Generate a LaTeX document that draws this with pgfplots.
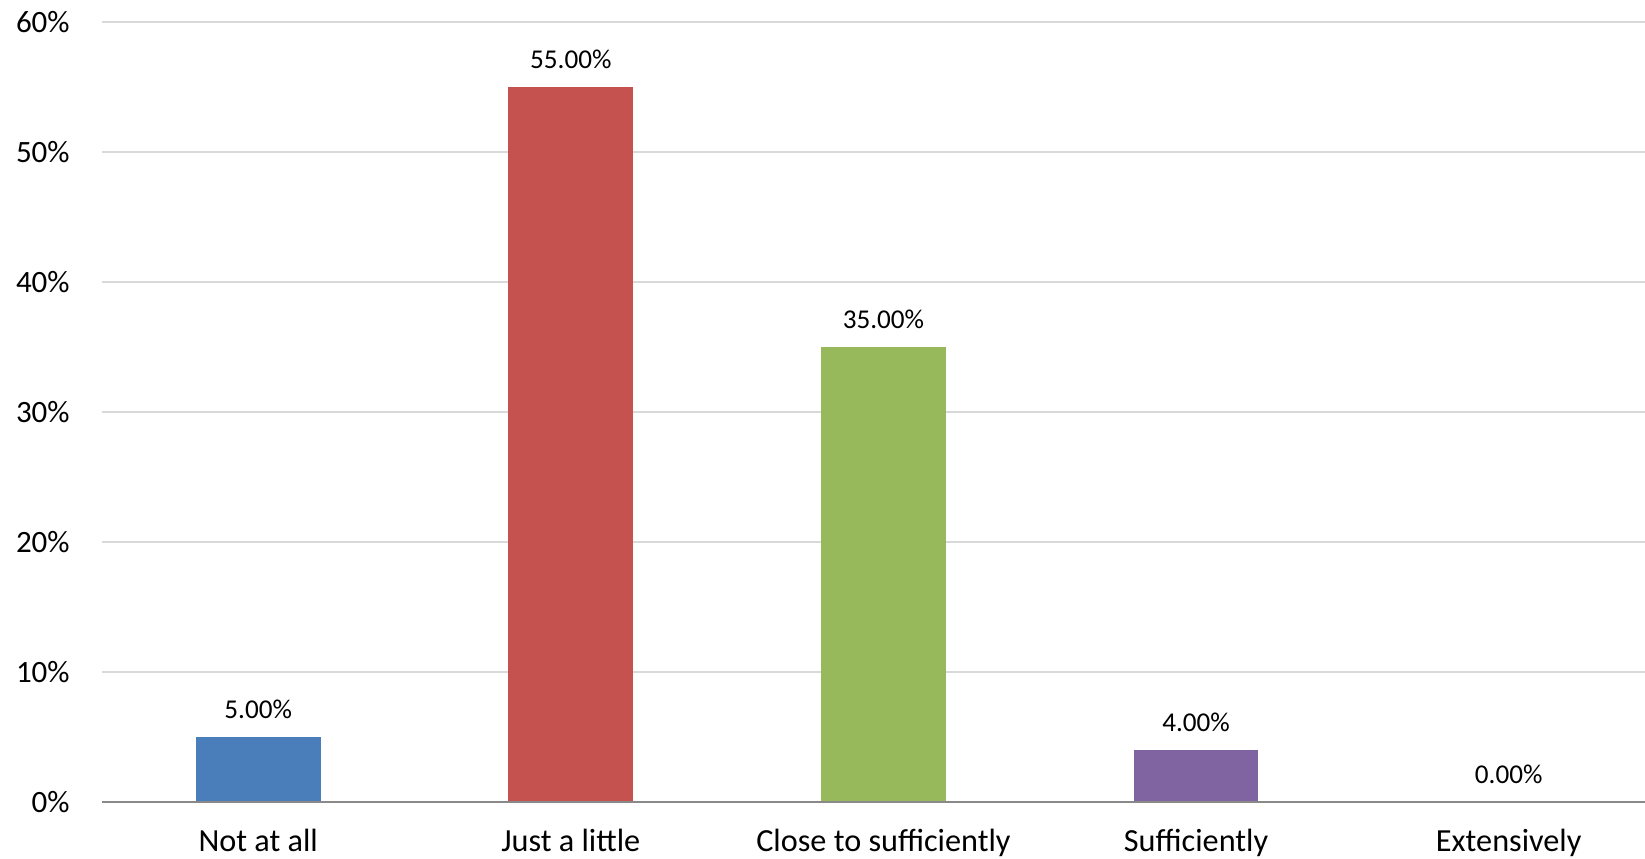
\documentclass[border=0pt]{standalone}
\usepackage{pgfplots}
\pgfplotsset{compat=1.18}
\usepackage{fontspec}
\setmainfont{Carlito}
\usetikzlibrary{calc}
\definecolor{cblue}{HTML}{4A7EBB}
\definecolor{cred}{HTML}{C5524E}
\definecolor{cgreen}{HTML}{98B95B}
\definecolor{cpurple}{HTML}{8064A2}
\definecolor{cgrid}{HTML}{D9D9D9}
\definecolor{caxis}{HTML}{898989}
\begin{document}
\begin{tikzpicture}[x=1pt,y=1pt]
\begin{axis}[
  name=ax,
  scale only axis,
  width=1173.75pt, height=585.75pt,
  xmin=-0.5, xmax=4.5, ymin=0, ymax=60,
  axis line style={draw=none},
  ybar, bar width=93.75pt, bar shift=0pt,
  xtick={0,1,2,3,4},
  xticklabels={Not at all, Just a little, Close to sufficiently, Sufficiently, Extensively},
  ytick={0,10,20,30,40,50,60},
  yticklabel={\pgfmathprintnumber{\tick}\%},
  /pgf/number format/assume math mode=true,
  major tick length=0pt,
  ymajorgrids, grid style={cgrid, line width=1.2pt},
  tick label style={black},
  yticklabel style={font=\fontsize{23.3}{27}\selectfont, inner sep=0pt, xshift=-24pt},
  xticklabel style={font=\fontsize{24.2}{28}\selectfont, inner sep=0pt, yshift=-20pt},
  nodes near coords={\pgfmathprintnumber[fixed, fixed zerofill, precision=2]{\pgfplotspointmeta}\%},
  nodes near coords style={font=\fontsize{20.4}{24}\selectfont, black, anchor=south, inner sep=0pt, yshift=13.5pt},
  clip=false,
]
\addplot[fill=cblue, draw=none] coordinates {(0,5)};
\addplot[fill=cred, draw=none] coordinates {(1,55)};
\addplot[fill=cgreen, draw=none] coordinates {(2,35)};
\addplot[fill=cpurple, draw=none] coordinates {(3,4)};
\addplot[fill=cpurple, draw=none] coordinates {(4,0)};
\draw[caxis, line width=1.5pt] (rel axis cs:0,0) -- (rel axis cs:1,0);
\end{axis}
\pgfresetboundingbox
\path[use as bounding box] ($(ax.south west)+(-76.5pt,-42.75pt)$) rectangle ($(ax.north east)+(-15pt,16.5pt)$);
\end{tikzpicture}
\end{document}
